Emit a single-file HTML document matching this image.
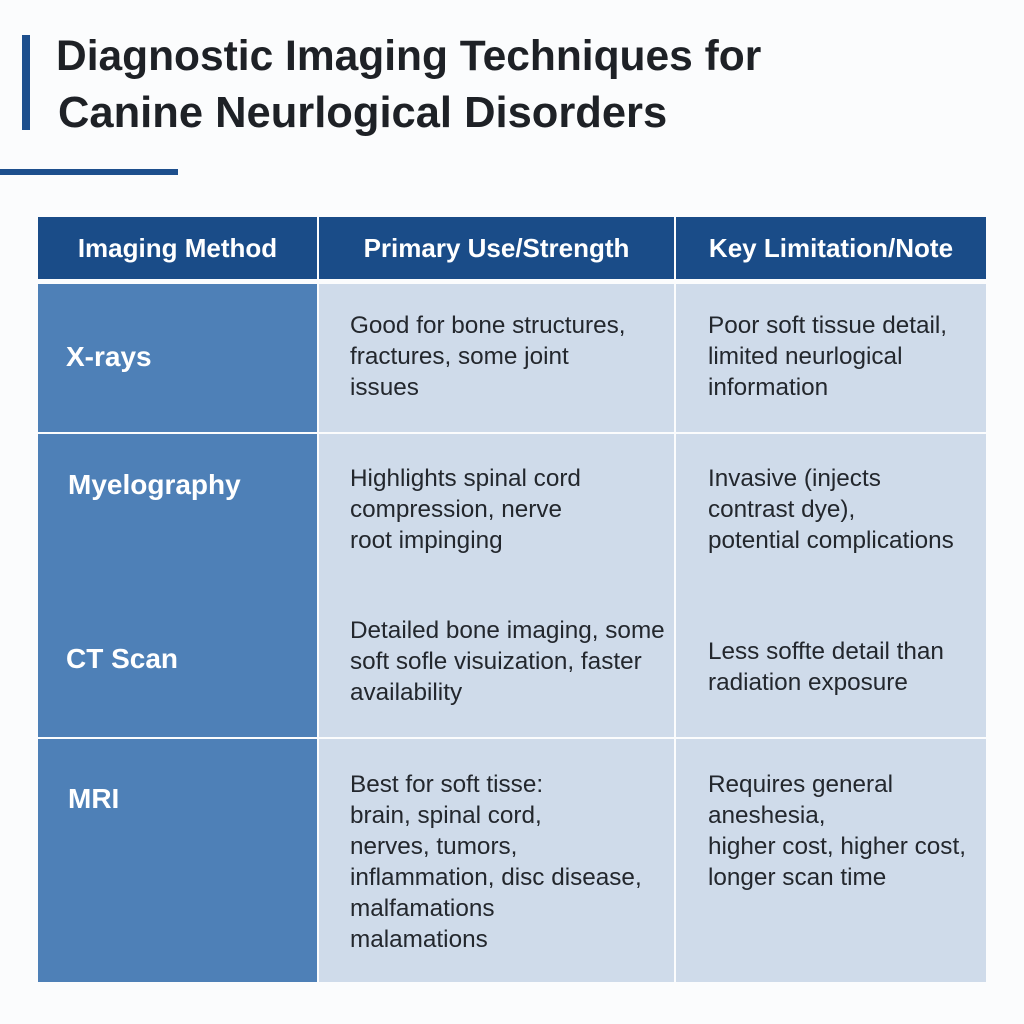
<!DOCTYPE html>
<html><head><style>
body{margin:0;width:1024px;height:1024px;background:#fbfcfd;position:relative;overflow:hidden;font-family:"Liberation Sans",Arial,sans-serif}
.a{position:absolute;white-space:nowrap}
.t{font-weight:bold;font-size:42.5px;color:#1e2126;left:56px;line-height:56px}
.h{background:#1a4c88;color:#fff;font-weight:bold;font-size:26px;text-align:center;line-height:62px;top:217px;height:62px}
.c1{background:#4e80b7}
.c{background:#cfdbea}
.lbl{color:#fff;font-weight:bold;font-size:28px}
.tx{color:#23272d;font-size:24.3px;line-height:31px}
</style></head><body>
<div class="a" style="left:22px;top:35px;width:8px;height:95px;background:#1d4f8d"></div>
<div class="a t" style="top:29px">Diagnostic Imaging Techniques for</div>
<div class="a t" style="top:85px;left:58px;font-size:43.5px">Canine Neurlogical Disorders</div>
<div class="a" style="left:0;top:169px;width:178px;height:6px;background:#1d4f8d"></div>

<div class="a h" style="left:38px;width:279px">Imaging Method</div>
<div class="a h" style="left:319px;width:355px">Primary Use/Strength</div>
<div class="a h" style="left:676px;width:310px">Key Limitation/Note</div>

<div class="a c1" style="left:38px;top:284px;width:279px;height:148px"></div>
<div class="a c1" style="left:38px;top:434px;width:279px;height:303px"></div>
<div class="a c1" style="left:38px;top:739px;width:279px;height:243px"></div>
<div class="a c" style="left:319px;top:284px;width:355px;height:148px"></div>
<div class="a c" style="left:319px;top:434px;width:355px;height:303px"></div>
<div class="a c" style="left:319px;top:739px;width:355px;height:243px"></div>
<div class="a c" style="left:676px;top:284px;width:310px;height:148px"></div>
<div class="a c" style="left:676px;top:434px;width:310px;height:303px"></div>
<div class="a c" style="left:676px;top:739px;width:310px;height:243px"></div>

<div class="a lbl" style="left:66px;top:341px">X-rays</div>
<div class="a lbl" style="left:68px;top:469px">Myelography</div>
<div class="a lbl" style="left:66px;top:643px">CT Scan</div>
<div class="a lbl" style="left:68px;top:783px">MRI</div>

<div class="a tx" style="left:350px;top:310px">Good for bone structures,<br>fractures, some joint<br>issues</div>
<div class="a tx" style="left:708px;top:310px">Poor soft tissue detail,<br>limited neurlogical<br>information</div>
<div class="a tx" style="left:350px;top:463px">Highlights spinal cord<br>compression, nerve<br>root impinging</div>
<div class="a tx" style="left:708px;top:463px">Invasive (injects<br>contrast dye),<br>potential complications</div>
<div class="a tx" style="left:350px;top:615px">Detailed bone imaging, some<br>soft sofle visuization, faster<br>availability</div>
<div class="a tx" style="left:708px;top:636px">Less soffte detail than<br>radiation exposure</div>
<div class="a tx" style="left:350px;top:769px">Best for soft tisse:<br>brain, spinal cord,<br>nerves, tumors,<br>inflammation, disc disease,<br>malfamations<br>malamations</div>
<div class="a tx" style="left:708px;top:769px">Requires general<br>aneshesia,<br>higher cost, higher cost,<br>longer scan time</div>
</body></html>
